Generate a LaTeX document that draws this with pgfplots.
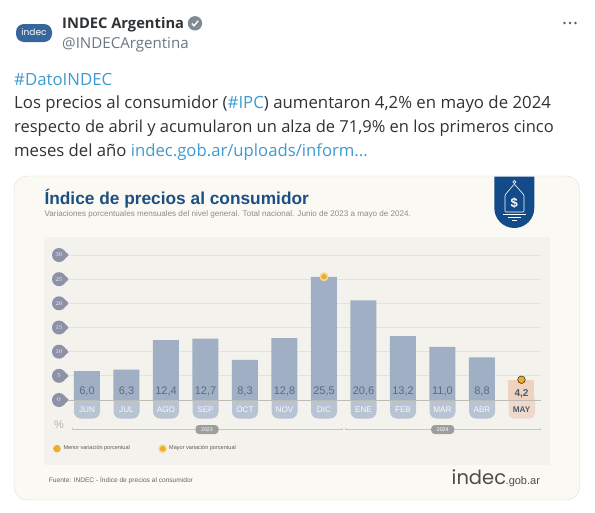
\documentclass[border=0pt]{standalone}
\usepackage{fontspec}
\usepackage{pgfplots}
\usepackage{pgfplotstable}
\pgfplotsset{compat=1.18}
\setmainfont{Liberation Sans}
\newfontfamily\tw{Open Sans}
\newfontfamily\lgf{Poppins}
\definecolor{card}{HTML}{FBF9F4}
\definecolor{panel}{HTML}{F4F2ED}
\definecolor{cardline}{HTML}{DEDEDC}
\definecolor{gridc}{HTML}{E4E2DC}
\definecolor{zero}{HTML}{BDBBB6}
\definecolor{bar}{HTML}{A0AFC3}
\definecolor{tab}{HTML}{B8C3D3}
\definecolor{mayc}{HTML}{EFD2BF}
\definecolor{maytab}{HTML}{EFD9CB}
\definecolor{vals}{HTML}{5B6B85}
\definecolor{bub}{HTML}{8E92A8}
\definecolor{dot}{HTML}{E9AE2C}
\definecolor{halo}{HTML}{F6D58F}
\definecolor{navy}{HTML}{134B8A}
\definecolor{ttl}{HTML}{1D4F82}
\definecolor{link}{HTML}{3E9BCF}
\definecolor{twt}{HTML}{2F3336}
\definecolor{hnd}{HTML}{6B7780}
\pgfplotstableread{
x v name
0 6.0 {6,0}
1 6.3 {6,3}
2 12.4 {12,4}
3 12.7 {12,7}
4 8.3 {8,3}
5 12.8 {12,8}
6 25.5 {25,5}
7 20.6 {20,6}
8 13.2 {13,2}
9 11.0 {11,0}
10 8.8 {8,8}
}\monthly
\pgfplotstableread{
x v name
11 4.2 {4,2}
}\latest
\begin{document}
\begin{tikzpicture}[x=1pt,y=-1pt]
\path[fill=white] (0,0) rectangle (595,512);
% tweet header
\fill[rounded corners=8pt,color=navy!85!white] (16,24) rectangle (52,42);
\node[text=white,font=\lgf\fontsize{9}{9}\selectfont] at (34,32.5) {indec};
\node[anchor=base west,inner sep=0,text=twt,font=\tw\bfseries\fontsize{14.7}{14.7}\selectfont] at (62,28) {INDEC Argentina};
\fill[hnd!85!white] (195,23.3) circle (7.2);
\draw[white,line width=1.4pt] (191.8,23.5) -- (194,25.8) -- (198.2,20.8);
\node[anchor=base west,inner sep=0,text=hnd,font=\tw\fontsize{15.1}{15.1}\selectfont] at (62,48) {@INDECArgentina};
\foreach \q in {564.5,570,575.5} \fill[twt!80!white] (\q,23) circle (1.4);
\begin{scope}[every node/.style={anchor=base west,inner sep=0,text=twt,font=\tw\fontsize{16.8}{16.8}\selectfont}]
\node[text=link] at (14,85) {\#DatoINDEC};
\node at (14,108.5) {Los precios al consumidor (\textcolor{link}{\#IPC}) aumentaron 4,2\% en mayo de 2024};
\node[font=\tw\fontsize{16.5}{16.5}\selectfont] at (14,132) {respecto de abril y acumularon un alza de 71,9\% en los primeros cinco};
\node[font=\tw\fontsize{16.7}{16.7}\selectfont] at (14,156) {meses del año \textcolor{link}{indec.gob.ar/uploads/inform...}};
\end{scope}
% card
\draw[cardline,fill=card,rounded corners=13pt] (14,176) rectangle (579.5,500);
\fill[panel] (44,237) rectangle (550,465);
% title
\node[anchor=base west,inner sep=0,text=ttl,font=\bfseries\fontsize{17.3}{17.3}\selectfont] at (44.3,204) {Índice de precios al consumidor};
\node[anchor=base west,inner sep=0,text=black!45,font=\fontsize{8.1}{8.1}\selectfont] at (44.3,216) {Variaciones porcentuales mensuales del nivel general. Total nacional. Junio de 2023 a mayo de 2024.};
% emblem
\fill[navy] (494.3,176.5) -- (534.3,176.5) -- (534.3,208) arc[start angle=0,end angle=180,radius=20] -- cycle;
\draw[white,line width=.6pt,rounded corners=1pt] (514.3,184) -- (524,195) -- (524,212) -- (505,212) -- (505,195) -- cycle;
\draw[white,line width=.6pt] (514.3,182) circle (1.6);
\node[text=white,font=\bfseries\fontsize{13}{13}\selectfont,inner sep=0] at (514.3,203) {\$};
\draw[white,line width=.5pt] (503,214.5) -- (526,214.5) (508,217.5) -- (521,217.5) (512,220.5) -- (517,220.5);
% month tabs
\foreach \i in {0,...,10}
  \fill[tab,rounded corners=7pt] ({87+39.5*\i-13},395) -- ({87+39.5*\i-13},418.5) -- ({87+39.5*\i+13},418.5) -- ({87+39.5*\i+13},395) -- cycle;
\fill[maytab,rounded corners=5pt] (508.7,395) -- (508.7,418.5) -- (535,418.5) -- (535,395) -- cycle;
% tick-bubble pointers
\foreach \q in {255,279.2,303.3,327.5,351.7,375.8,400}
  \fill[bub] (64,\q-4.5) -- (69,\q) -- (64,\q+4.5) -- cycle;
\begin{axis}[
  at={(68pt,-400pt)},anchor=south west,scale only axis,
  width=473pt,height=145pt,
  xmin=-0.481,xmax=11.494,ymin=0,ymax=30,clip=false,
  axis line style={draw=none},
  major tick length=0pt,
  ytick={0,5,...,30},
  ymajorgrids,grid style={gridc,line width=.7pt},
  xtick={0,...,11},
  xticklabels={JUN,JUL,AGO,SEP,OCT,NOV,DIC,ENE,FEB,MAR,ABR,\textbf{\textcolor{vals!85!black}{MAY}}},
  xticklabel style={anchor=center,yshift=-9.3pt,text=white!92!tab,font=\fontsize{8.2}{8.2}\selectfont,inner sep=0},
  yticklabel style={anchor=center,xshift=-9pt,circle,fill=bub,text=white!85!bub,minimum size=14pt,inner sep=0,font=\fontsize{6.5}{6.5}\selectfont},
]
\addplot[ybar,bar width=26pt,bar shift=0pt,fill=bar,draw=none,
  visualization depends on={rawy \as \rawy},
  nodes near coords,point meta=explicit symbolic,
  every node near coord/.append style={anchor=center,inner sep=0,text=vals,font=\fontsize{11}{11}\selectfont,yshift={(1.75-\rawy)*4.833pt}}] table[x=x,y=v,meta=name] {\monthly};
\addplot[ybar,bar width=26pt,bar shift=0pt,fill=mayc,draw=none,
  visualization depends on={rawy \as \rawy},
  nodes near coords,point meta=explicit symbolic,
  every node near coord/.append style={anchor=center,inner sep=0,text=vals!85!black,font=\bfseries\fontsize{10}{10}\selectfont,yshift={(1.2-\rawy)*4.833pt}}] table[x=x,y=v,meta=name] {\latest};
\addplot[only marks,mark=*,mark size=3.7pt,mark options={draw=halo,line width=1.6pt,fill=dot},forget plot] coordinates {(6,25.5)};
\addplot[only marks,mark=*,mark size=3.8pt,mark options={draw=none,fill=dot},forget plot] coordinates {(11,4.2)};
\end{axis}
\draw[zero,line width=1pt] (68,400) -- (541,400);
% time brackets
\draw[zero!85!white,line width=.7pt] (72.5,427.5) -- (72.5,429.5) -- (342.5,429.5) -- (342.5,427.5);
\draw[zero!85!white,line width=.7pt] (345,427.5) -- (345,429.5) -- (540.5,429.5) -- (540.5,427.5);
\node[fill=black!38,rounded corners=3.5pt,text=white,font=\fontsize{5.3}{5.3}\selectfont,minimum width=23pt,minimum height=9pt,inner sep=0] at (207,429.5) {2023};
\node[fill=black!38,rounded corners=3.5pt,text=white,font=\fontsize{5.3}{5.3}\selectfont,minimum width=23pt,minimum height=9pt,inner sep=0] at (442.7,429.5) {2024};
\node[text=black!30,font=\fontsize{11}{11}\selectfont,inner sep=0] at (59,425) {\%};
% legend
\fill[dot] (57,448.7) circle (3.8);
\node[anchor=west,inner sep=0,text=black!65,font=\fontsize{5.5}{5.5}\selectfont] at (63.3,448.5) {Menor variación porcentual};
\fill[halo] (162.7,448.7) circle (4.3);
\fill[dot] (162.7,448.7) circle (2.8);
\node[anchor=west,inner sep=0,text=black!65,font=\fontsize{5.55}{5.55}\selectfont] at (169,448.5) {Mayor variación porcentual};
\node[anchor=west,inner sep=0,text=black!60,font=\fontsize{6.6}{6.6}\selectfont] at (48.7,480) {Fuente: INDEC - Índice de precios al consumidor};
% logo
\node[anchor=base west,inner sep=0,text=black!70,font=\lgf\fontsize{19.5}{19.5}\selectfont] at (451.5,484) {indec};
\node[anchor=base west,inner sep=0,text=black!70,font=\fontsize{11}{11}\selectfont] at (505.5,484) {.gob.ar};
\path (0,0) rectangle (595,512);
\end{tikzpicture}
\end{document}
